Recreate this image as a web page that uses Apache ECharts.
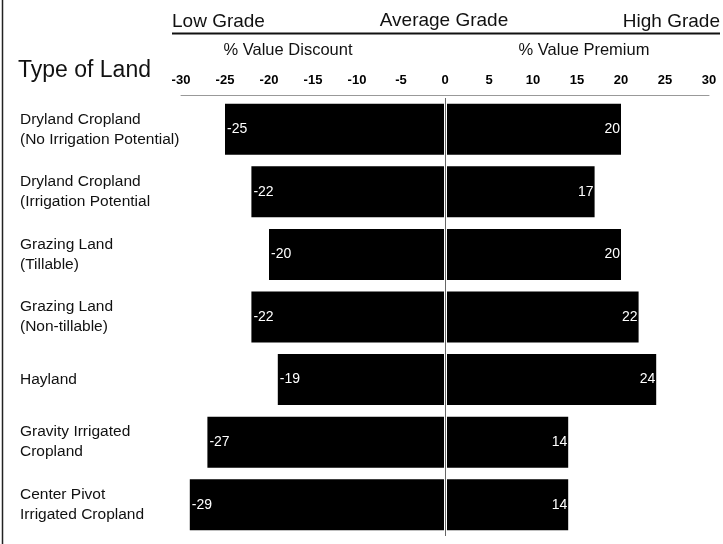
<!DOCTYPE html>
<html>
<head>
<meta charset="utf-8">
<title>Type of Land – Value Discount / Premium</title>
<script src="https://cdn.jsdelivr.net/npm/echarts@6/dist/echarts.min.js"></script>
<style>
  html, body { margin: 0; padding: 0; background: #fff; }
  #chart { width: 723px; height: 544px; }
</style>
</head>
<body>
<div id="chart"></div>
<script>
// Land types, top to bottom
const landTypes = [
  'Dryland Cropland\n(No Irrigation Potential)',
  'Dryland Cropland\n(Irrigation Potential',
  'Grazing Land\n(Tillable)',
  'Grazing Land\n(Non-tillable)',
  'Hayland',
  'Gravity Irrigated\nCropland',
  'Center Pivot\nIrrigated Cropland'
];

// % value discount for low grade land
const lowGradeDiscount = [-25, -22, -20, -22, -19, -27, -29];
// % value premium for high grade land
const highGradePremium = [20, 17, 20, 22, 24, 14, 14];

// Axis range and tick step
const axisMin = -30;
const axisMax = 30;
const axisStep = 5;

const FONT = 'Liberation Sans, Arial, Helvetica, sans-serif';

const chart = echarts.init(document.getElementById('chart'));

const barLabel = {
  show: true,
  color: '#fff',
  fontFamily: FONT,
  fontSize: 14
};

chart.setOption({
  backgroundColor: '#fff',
  animation: false,
  grid: { left: 181, right: 14, top: 98, bottom: 8, containLabel: false },
  xAxis: {
    type: 'value',
    position: 'top',
    offset: 3,
    min: axisMin,
    max: axisMax,
    interval: axisStep,
    axisLine: { show: true, onZero: false, lineStyle: { color: '#999', width: 1 } },
    axisTick: { show: false },
    splitLine: { show: false },
    axisLabel: {
      margin: 8,
      color: '#000',
      fontFamily: FONT,
      fontSize: 13,
      fontWeight: 'bold'
    }
  },
  yAxis: {
    type: 'category',
    data: landTypes,
    inverse: true,
    axisLine: { show: false },
    axisTick: { show: false },
    splitLine: { show: false },
    axisLabel: {
      align: 'left',
      margin: 161,
      color: '#111',
      fontFamily: FONT,
      fontSize: 15.5,
      lineHeight: 20
    }
  },
  series: [
    {
      name: 'Low Grade',
      type: 'bar',
      data: lowGradeDiscount,
      barWidth: 51,
      barGap: '-100%',
      itemStyle: { color: '#000' },
      label: Object.assign({ position: 'insideLeft', distance: 2 }, barLabel)
    },
    {
      name: 'High Grade',
      type: 'bar',
      data: highGradePremium,
      barWidth: 51,
      barGap: '-100%',
      itemStyle: { color: '#000' },
      label: Object.assign({ position: 'insideRight', distance: 1 }, barLabel),
      markLine: {
        silent: true,
        symbol: 'none',
        label: { show: false },
        data: [
          { xAxis: 0, lineStyle: { color: '#fff', width: 3, type: 'solid' } },
          { xAxis: 0, lineStyle: { color: '#666', width: 1, type: 'solid' } }
        ]
      }
    }
  ],
  graphic: [
    // left frame edge
    { type: 'line', shape: { x1: 2.5, y1: 0, x2: 2.5, y2: 544 }, style: { stroke: '#222', lineWidth: 1.5 } },
    // grade headings
    { type: 'text', x: 172, y: 12, style: { text: 'Low Grade', font: '19px ' + FONT, fill: '#111' } },
    { type: 'text', x: 444, y: 11, style: { text: 'Average Grade', font: '19px ' + FONT, fill: '#111', textAlign: 'center' } },
    { type: 'text', x: 720, y: 12, style: { text: 'High Grade', font: '19px ' + FONT, fill: '#111', textAlign: 'right' } },
    { type: 'line', shape: { x1: 172, y1: 33.5, x2: 720, y2: 33.5 }, style: { stroke: '#111', lineWidth: 2 } },
    // discount / premium headings
    { type: 'text', x: 288, y: 42, style: { text: '% Value Discount', font: '16.5px ' + FONT, fill: '#111', textAlign: 'center' } },
    { type: 'text', x: 584, y: 42, style: { text: '% Value Premium', font: '16.5px ' + FONT, fill: '#111', textAlign: 'center' } },
    // row heading
    { type: 'text', x: 18, y: 59, style: { text: 'Type of Land', font: '23px ' + FONT, fill: '#111' } }
  ]
});
</script>
</body>
</html>
